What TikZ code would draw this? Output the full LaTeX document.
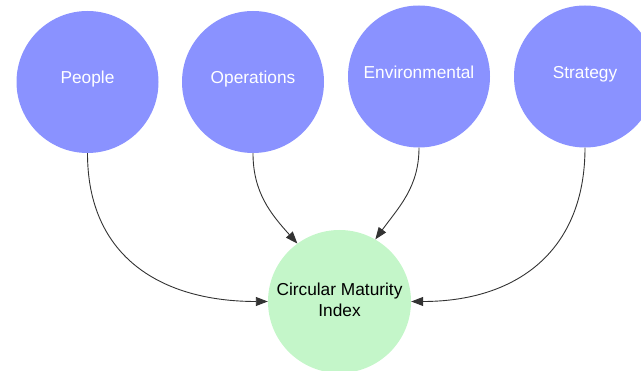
\documentclass[tikz,border=0pt]{standalone}
\usepackage{fontspec}
\setmainfont{Liberation Sans}
\usetikzlibrary{arrows.meta}
\definecolor{pillarblue}{RGB}{138,146,255}
\definecolor{indexgreen}{RGB}{196,246,201}
\definecolor{linkgray}{RGB}{51,51,51}
\tikzset{
  pillar/.style={circle, fill=pillarblue, draw=none, minimum size=142pt, inner sep=0pt,
    text=white, font=\fontsize{17.3}{22}\selectfont, text height=12pt, text depth=8.8pt},
  indexnode/.style={circle, fill=indexgreen, draw=none, minimum size=143pt, inner sep=0pt,
    text=black, align=center, font=\fontsize{17.3}{21.5}\selectfont},
  link/.style={draw=linkgray, line width=0.9pt, -{Triangle[length=12pt, width=9pt]}}
}
\begin{document}
\begin{tikzpicture}[x=1pt, y=-1pt]
  \useasboundingbox (0,0) rectangle (641,371);
  \clip (0,0) rectangle (641,371);
  \node[pillar] (people) at (87.5,82) {People};
  \node[pillar] (ops) at (253,82) {Operations};
  \node[pillar] (env) at (419,76.5) {Environmental};
  \node[pillar] (strat) at (585,76.5) {Strategy};
  \node[indexnode] (cmi) at (339.5,301.5) {\raisebox{0pt}{Circular Maturity}\\Index\vphantom{y}};
  \draw[link] (people) to[out=-90, in=180, looseness=1.15] (cmi.180);
  \draw[link] (ops) to[out=-90, in=132] (cmi.126);
  \draw[link] (env) to[out=-90, in=54] (cmi.60);
  \draw[link] (strat) to[out=-90, in=0, looseness=1.15] (cmi.0);
\end{tikzpicture}
\end{document}
